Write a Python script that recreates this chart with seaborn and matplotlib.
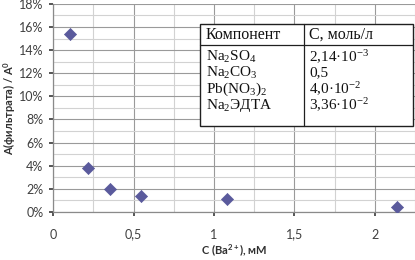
import matplotlib

matplotlib.use("Agg")
import matplotlib.pyplot as plt
from matplotlib.ticker import MultipleLocator, PercentFormatter, FuncFormatter
import pandas as pd
import seaborn as sns

# data
ba_conc = [0.106, 0.215, 0.355, 0.545, 1.08, 2.14]
ratio = [0.154, 0.038, 0.020, 0.014, 0.0115, 0.0045]

components = ["Na$_2$SO$_4$", "Na$_2$CO$_3$", "Pb(NO$_3$)$_2$", "Na$_2$ЭДТА"]
concentrations = ["2,14·10$^{-3}$", "0,5", "4,0·10$^{-2}$", "3,36·10$^{-2}$"]
table_header = ["Компонент", "С, моль/л"]

sns.set_theme(style="white")
plt.rcParams["font.family"] = ["Lato", "DejaVu Sans"]
plt.rcParams["mathtext.default"] = "regular"

df = pd.DataFrame({"c": ba_conc, "r": ratio})

fig = plt.figure(figsize=(4.15, 2.6), dpi=100)
ax = fig.add_axes([0.128, 0.185, 0.872, 0.8])

ax.xaxis.set_major_locator(MultipleLocator(0.5))
ax.xaxis.set_minor_locator(MultipleLocator(0.25))
ax.yaxis.set_major_locator(MultipleLocator(0.02))
ax.yaxis.set_minor_locator(MultipleLocator(0.01))
ax.grid(which="major", color="#9a9a9a", linewidth=0.8)
ax.grid(which="minor", color="#d2d2d2", linewidth=0.8)
ax.set_axisbelow(True)

sns.scatterplot(data=df, x="c", y="r", marker="D", s=38, color="#5a5a9c",
                edgecolor="#5a5a9c", linewidth=0.5, ax=ax, zorder=3)

ax.set_xlim(0, 2.25)
ax.set_ylim(0, 0.18)
ax.yaxis.set_major_formatter(PercentFormatter(1.0, decimals=0))
ax.xaxis.set_major_formatter(FuncFormatter(lambda v, p: f"{v:g}".replace(".", ",")))
ax.tick_params(axis="both", which="major", labelsize=9, colors="#404040", length=3,
               direction="out", bottom=True, left=True, pad=4)
ax.tick_params(axis="x", pad=9)

for side in ["top", "right"]:
    ax.spines[side].set_visible(False)
for side in ["left", "bottom"]:
    ax.spines[side].set_color("#8a8a8a")
    ax.spines[side].set_linewidth(0.9)

ax.set_xlabel("C (Ba$^{2+}$), мМ", fontsize=8, fontweight="bold", color="#303030", labelpad=2)
ax.set_ylabel("А(фильтрата) / А$^0$", fontsize=8, fontweight="bold", color="#303030", labelpad=1)

# table in the upper right
x0, x1, xd = 200 / 415, 413 / 415, 304 / 415
y_top, y_bot, y_sep = 1 - 24 / 260, 1 - 126 / 260, 1 - 45 / 260
box = plt.Rectangle((x0, y_bot), x1 - x0, y_top - y_bot, transform=fig.transFigure,
                    facecolor="white", edgecolor="#202020", linewidth=1.0, zorder=5)
fig.patches.append(box)
fig.add_artist(plt.Line2D([x0, x1], [y_sep, y_sep], transform=fig.transFigure,
                          color="#202020", linewidth=0.9, zorder=6))
fig.add_artist(plt.Line2D([xd, xd], [y_bot, y_top], transform=fig.transFigure,
                          color="#202020", linewidth=0.9, zorder=6))

serif = ["Liberation Serif", "DejaVu Serif"]
rows_y = [57, 73, 89, 105]
tsize = 11
fig.text(x0 + 6 / 415, 1 - 35 / 260, table_header[0], family=serif, fontsize=11.5,
         va="center", ha="left", color="#111111", zorder=7)
fig.text(xd + 5 / 415, 1 - 35 / 260, table_header[1], family=serif, fontsize=11.5,
         va="center", ha="left", color="#111111", zorder=7)
for comp, conc, yy in zip(components, concentrations, rows_y):
    fig.text(x0 + 6 / 415, 1 - yy / 260, comp, family=serif, fontsize=tsize,
             va="center", ha="left", color="#111111", zorder=7)
    fig.text(xd + 5 / 415, 1 - yy / 260, conc, family=serif, fontsize=tsize,
             va="center", ha="left", color="#111111", zorder=7)

fig.savefig("out.png", dpi=100)
